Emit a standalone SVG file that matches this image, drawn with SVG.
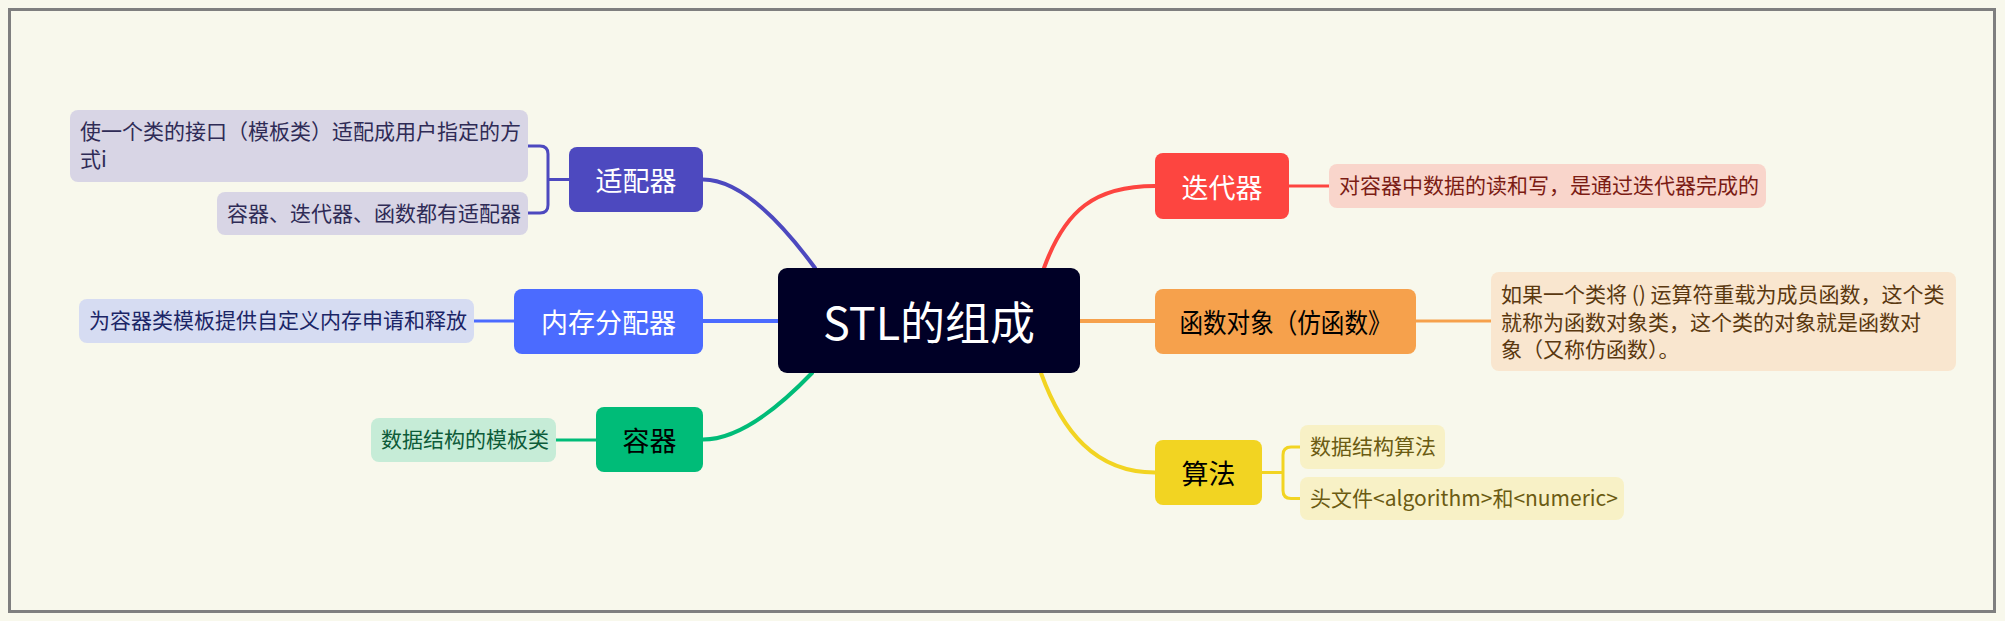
<svg xmlns="http://www.w3.org/2000/svg" width="2005" height="621" viewBox="0 0 2005 621">
<style>
text{font-family:"Noto Sans CJK SC","Noto Sans",sans-serif;}
.topic{font-size:27px;text-anchor:middle;dominant-baseline:central;}
.note{font-size:21px;}
.main{fill:none;stroke-width:4;stroke-linecap:round;}
.sub{fill:none;stroke-width:3;}
</style>
<rect x="0" y="0" width="2005" height="621" fill="#f8f8ec"/>
<rect x="9.5" y="9.5" width="1985" height="602" fill="#f8f8ec" stroke="#7f7f7f" stroke-width="3"/>
<g id="connectors">
<path class="main" stroke="#4d49bf" d="M703,179.5 Q750,179.5 815,268"/>
<path class="main" stroke="#4b6bff" d="M703,321 H779"/>
<path class="main" stroke="#00bc78" d="M703,439.5 Q748,439.5 812,373"/>
<path class="main" stroke="#fd4540" d="M1044,268 C1065,210 1095,186 1155,186"/>
<path class="main" stroke="#f6a14c" d="M1080,321 H1155"/>
<path class="main" stroke="#f2d422" d="M1041,373 C1062,431 1095,472.5 1155,472.5"/>
<path class="sub" stroke="#4d49bf" d="M528,146 H540 Q548,146 548,154 V205 Q548,213 540,213 H528 M548,179.5 H569"/>
<path class="sub" stroke="#4b6bff" d="M474,321 H514"/>
<path class="sub" stroke="#00bc78" d="M556,440 H596"/>
<path class="sub" stroke="#fd4540" d="M1289,186 H1329"/>
<path class="sub" stroke="#f6a14c" d="M1416,321 H1491"/>
<path class="sub" stroke="#f2d422" d="M1262,472.5 H1283 M1300,447 H1291 Q1283,447 1283,455 V490.5 Q1283,498.5 1291,498.5 H1300"/>
</g>
<g id="central">
<rect x="778" y="268" width="302" height="105" rx="9" fill="#000026"/>
<text x="929" y="320" font-size="45" fill="#ffffff" text-anchor="middle" dominant-baseline="central">STL的组成</text>
</g>
<g id="adapter">
<rect x="569" y="147" width="134" height="65" rx="8" fill="#4d49bf"/>
<text class="topic" x="636" y="179.5" fill="#ffffff">适配器</text>
</g>
<g id="adapter-note1">
<rect x="70" y="110" width="458" height="72" rx="8" fill="#d8d5e5"/>
<text class="note" fill="#2f2b56"><tspan x="80" y="139">使一个类的接口（模板类）适配成用户指定的方</tspan><tspan x="80" y="167">式i</tspan></text>
</g>
<g id="adapter-note2">
<rect x="217" y="192" width="311" height="43" rx="8" fill="#d8d5e5"/>
<text class="note" x="227" y="221" fill="#2f2b56">容器、迭代器、函数都有适配器</text>
</g>
<g id="allocator">
<rect x="514" y="289" width="189" height="65" rx="8" fill="#4b6bff"/>
<text class="topic" x="608.5" y="321.5" fill="#ffffff">内存分配器</text>
</g>
<g id="allocator-note">
<rect x="79" y="299" width="395" height="44" rx="8" fill="#d6dcf2"/>
<text class="note" x="89" y="328" fill="#1b2566">为容器类模板提供自定义内存申请和释放</text>
</g>
<g id="container">
<rect x="596" y="407" width="107" height="65" rx="8" fill="#00bc78"/>
<text class="topic" x="649.5" y="439.5" fill="#000000">容器</text>
</g>
<g id="container-note">
<rect x="371" y="418" width="185" height="44" rx="8" fill="#c6ecd7"/>
<text class="note" x="381" y="447" fill="#0d5b39">数据结构的模板类</text>
</g>
<g id="iterator">
<rect x="1155" y="153" width="134" height="66" rx="8" fill="#fd4540"/>
<text class="topic" x="1222" y="186" fill="#ffffff">迭代器</text>
</g>
<g id="iterator-note">
<rect x="1329" y="164" width="437" height="44" rx="8" fill="#f9d5cb"/>
<text class="note" x="1339" y="193" fill="#7b1c14">对容器中数据的读和写，是通过迭代器完成的</text>
</g>
<g id="functor">
<rect x="1155" y="289" width="261" height="65" rx="8" fill="#f6a14c"/>
<text class="topic" x="1285.5" y="321.5" fill="#000000" textLength="212" lengthAdjust="spacingAndGlyphs">函数对象（仿函数》</text>
</g>
<g id="functor-note">
<rect x="1491" y="272" width="465" height="99" rx="8" fill="#f9e6cf"/>
<text class="note" fill="#5a3810"><tspan x="1501" y="302">如果一个类将 () 运算符重载为成员函数，这个类</tspan><tspan x="1501" y="330">就称为函数对象类，这个类的对象就是函数对</tspan><tspan x="1501" y="357">象（又称仿函数）。</tspan></text>
</g>
<g id="algorithm">
<rect x="1155" y="440" width="107" height="65" rx="8" fill="#f2d422"/>
<text class="topic" x="1208.5" y="472.5" fill="#000000">算法</text>
</g>
<g id="algorithm-note1">
<rect x="1300" y="425" width="145" height="44" rx="8" fill="#f8f1c6"/>
<text class="note" x="1310" y="454" fill="#6b5b12">数据结构算法</text>
</g>
<g id="algorithm-note2">
<rect x="1300" y="477" width="324" height="43" rx="8" fill="#f8f1c6"/>
<text class="note" x="1310" y="506" fill="#6b5b12">头文件&lt;algorithm&gt;和&lt;numeric&gt;</text>
</g>
</svg>
